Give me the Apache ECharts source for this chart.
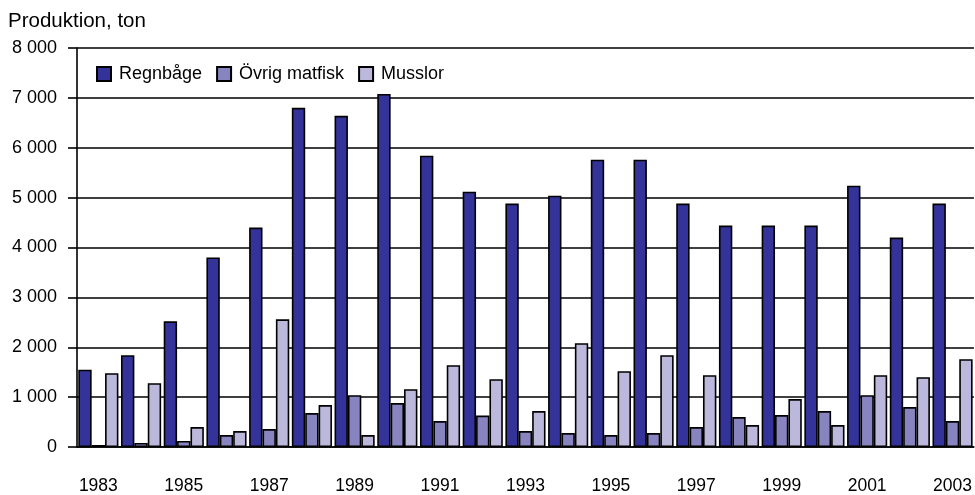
<!DOCTYPE html>
<html><head><meta charset="utf-8">
<script src="https://cdn.jsdelivr.net/npm/echarts@6/dist/echarts.min.js"></script>
<style>html,body{margin:0;padding:0;background:#fff}#c{width:975px;height:495px}</style>
</head><body><div id="c"></div>
<script>
const years = ['1983','1984','1985','1986','1987','1988','1989','1990','1991','1992','1993','1994','1995','1996','1997','1998','1999','2000','2001','2002','2003'];
const regnbage = [1550,1840,2520,3800,4400,6800,6640,7080,5840,5120,4880,5040,5760,5760,4880,4440,4440,4440,5240,4200,4880];
const ovrig = [40,80,120,240,360,680,1040,880,520,630,320,280,240,280,400,600,640,720,1040,800,520];
const musslor = [1480,1280,400,320,2560,840,240,1160,1640,1360,720,2080,1520,1840,1440,440,960,440,1440,1400,1760];
const seriesNames = ['Regnbåge','Övrig matfisk','Musslor'];
const colors = ['#333399','#8884C0','#BCB8DC'];
const font = 'Liberation Sans, Arial, sans-serif';
const chart = echarts.init(document.getElementById('c'));
function mk(i, data){
  return {name: seriesNames[i], type:'bar', data: data, barGap:'0%', barCategoryGap:'6%',
    itemStyle:{color: colors[i], borderColor:'#000', borderWidth:1.6}};
}
chart.setOption({
  animation:false,
  textStyle:{fontFamily:font},
  title:{text:'Produktion, ton', left:3, top:6, textStyle:{fontSize:20.5, fontWeight:'normal', color:'#000', fontFamily:font}},
  legend:{left:91, top:60, icon:'rect', itemWidth:14, itemHeight:14, itemGap:14, textStyle:{fontSize:18, color:'#000', fontFamily:font, padding:[0,0,0,3]}, data: seriesNames},
  grid:{left:77, right:0, top:48, bottom:47, containLabel:false},
  xAxis:{type:'category', data: years,
    axisLine:{lineStyle:{color:'#000', width:1.6}}, axisTick:{show:false},
    axisLabel:{interval:1, color:'#000', fontSize:17.5, margin:30, fontFamily:font}},
  yAxis:{type:'value', min:0, max:8000, interval:1000,
    axisLine:{show:true, lineStyle:{color:'#000', width:1.6}},
    axisTick:{show:true, length:9, lineStyle:{color:'#000', width:1.6}},
    splitLine:{lineStyle:{color:'#000', width:1.6}},
    axisLabel:{color:'#000', fontSize:18, margin:20, fontFamily:font,
      formatter: v => String(v).replace(/\B(?=(\d{3})+(?!\d))/g,' ')}},
  series:[mk(0,regnbage), mk(1,ovrig), mk(2,musslor)]
});
</script></body></html>
